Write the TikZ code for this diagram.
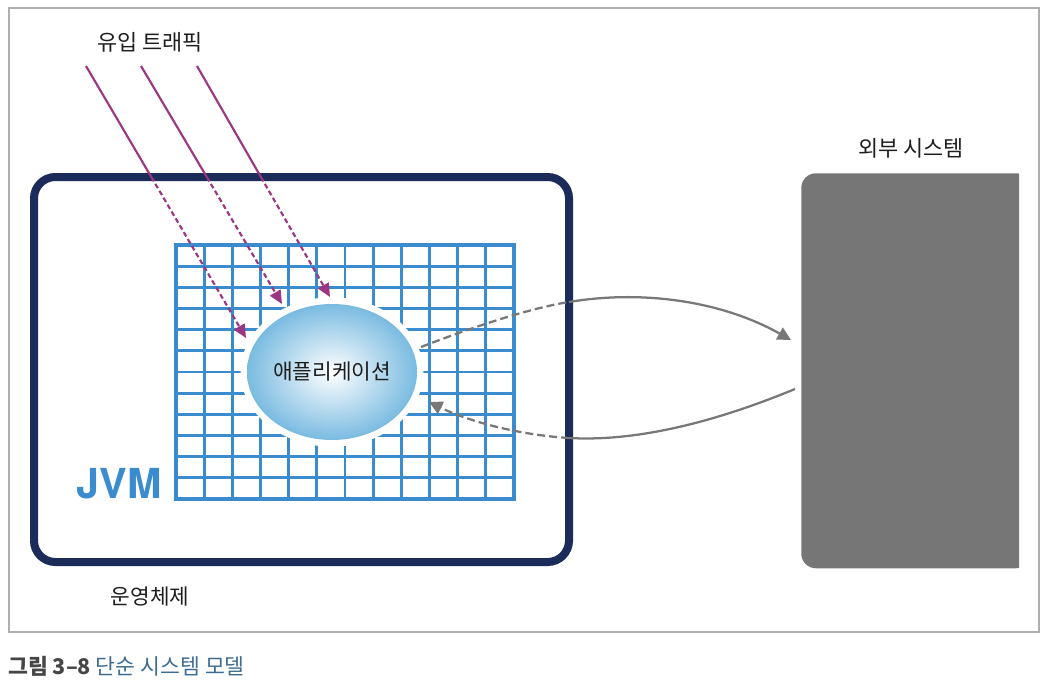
\documentclass[tikz,border=0pt]{standalone}
\usepackage{fontspec}
\newfontfamily\kr{Noto Sans CJK KR}
\newfontfamily\heros{TeX Gyre Heros}
\usetikzlibrary{arrows.meta,shapes.geometric}
\definecolor{navy}{RGB}{27,43,90}
\definecolor{gridblue}{RGB}{58,140,206}
\definecolor{appblue}{RGB}{122,187,225}
\definecolor{trafficcol}{RGB}{155,55,130}
\definecolor{flowgray}{RGB}{120,120,120}
\definecolor{extgray}{RGB}{118,118,118}
\definecolor{framegray}{RGB}{175,175,175}
\definecolor{capblue}{RGB}{62,108,145}
\definecolor{capgray}{RGB}{70,70,70}
\definecolor{labelblack}{RGB}{30,30,30}
\begin{document}
\begin{tikzpicture}[x=0.75pt,y=-0.75pt,
  lbl/.style={font=\kr\fontsize{16.4pt}{19pt}\selectfont, text=labelblack, inner sep=0pt},
  smalllbl/.style={font=\kr\fontsize{16pt}{19pt}\selectfont, text=labelblack, inner sep=0pt},
  gridline/.style={draw=gridblue, line width=2.1pt},
  trafficline/.style={draw=trafficcol, line width=1.6pt},
  trafficdash/.style={trafficline, dash pattern=on 3.75pt off 2.25pt, -{Triangle[length=10pt,width=9pt]}},
  flowline/.style={draw=flowgray, line width=1.7pt},
  flowdash/.style={flowline, dash pattern=on 6pt off 3pt},
  flowtip/.style={-{Triangle[length=10pt,width=10pt]}, flowgray}
]
\useasboundingbox (0,0) rectangle (1052,692);
% outer frame
\node[draw=framegray, line width=1.3pt, minimum width=772.5pt, minimum height=468pt, inner sep=0, anchor=north west] (frame) at (8,7) {};
% operating system box
\node[draw=navy, line width=6pt, rounded corners=16pt, minimum width=401.25pt, minimum height=288.75pt, inner sep=0] (os) at (301.5,369.5) {};
% JVM grid
\foreach \i in {1,...,11} {
  \draw[gridline] ({176+\i*338/12},245) -- ({176+\i*338/12},499);
  \draw[gridline] (176,{245+\i*254/12}) -- (514,{245+\i*254/12});
}
\node[draw=gridblue, line width=3.2pt, minimum width=253.5pt, minimum height=190.5pt, inner sep=0] (jvm) at (345,372) {};
% gap around the application
\node[ellipse, fill=white, minimum width=137pt, minimum height=112pt, inner sep=0] (appgap) at (332,372) {};
\node[ellipse, inner color=white, outer color=appblue, minimum width=127.5pt, minimum height=102pt, inner sep=0, smalllbl] (app) at (332,372) {애플리케이션};
% external system
\begin{scope}
  \clip (790,160) rectangle (1019,580);
  \node[fill=extgray, rounded corners=11pt, minimum width=172pt, minimum height=296.25pt, inner sep=0, anchor=north west] (ext) at (801,173) {};
\end{scope}
% incoming traffic
\coordinate (t1s) at (86,66);  \coordinate (t1m) at (151.3,177); \coordinate (t1e) at (246,338);
\coordinate (t2s) at (141,66); \coordinate (t2m) at (206.8,177); \coordinate (t2e) at (282,304);
\coordinate (t3s) at (197,66); \coordinate (t3m) at (260.9,177); \coordinate (t3e) at (330,297);
\draw[trafficline] (t1s) -- (t1m);
\draw[trafficdash] (t1m) -- (t1e);
\draw[trafficline] (t2s) -- (t2m);
\draw[trafficdash] (t2m) -- (t2e);
\draw[trafficline] (t3s) -- (t3m);
\draw[trafficdash] (t3m) -- (t3e);
% calls to external system
\coordinate (g1s) at (421,347); \coordinate (g1m) at (569,302); \coordinate (g1e) at (791,340);
\draw[flowdash] (g1s) .. controls (470,328) and (530,308) .. (g1m);
\draw[flowline, flowtip] (g1m) .. controls (640,290) and (720,300) .. (g1e);
\coordinate (g2s) at (795,389); \coordinate (g2m) at (569,438); \coordinate (g2e) at (429,402);
\draw[flowline] (g2s) .. controls (720,420) and (640,442) .. (g2m);
\draw[flowdash, flowtip] (g2m) .. controls (520,435) and (470,422) .. (g2e);
% labels
\node[lbl] (trafficlbl) at (150,42) {유입 트래픽};
\node[lbl] (extlbl) at (911,148) {외부 시스템};
\node[smalllbl] (oslbl) at (150,597) {운영체제};
\node[font=\heros\bfseries\fontsize{31pt}{32pt}\selectfont, text=gridblue, inner sep=0] (jvmlbl) at (119,484) {JVM};
\node[anchor=west, inner sep=0, font=\kr\fontsize{16.2pt}{19pt}\selectfont] (caption) at (8,666) {\textcolor{capgray}{\bfseries 그림 3–8} \textcolor{capblue}{단순 시스템 모델}};
\end{tikzpicture}
\end{document}
